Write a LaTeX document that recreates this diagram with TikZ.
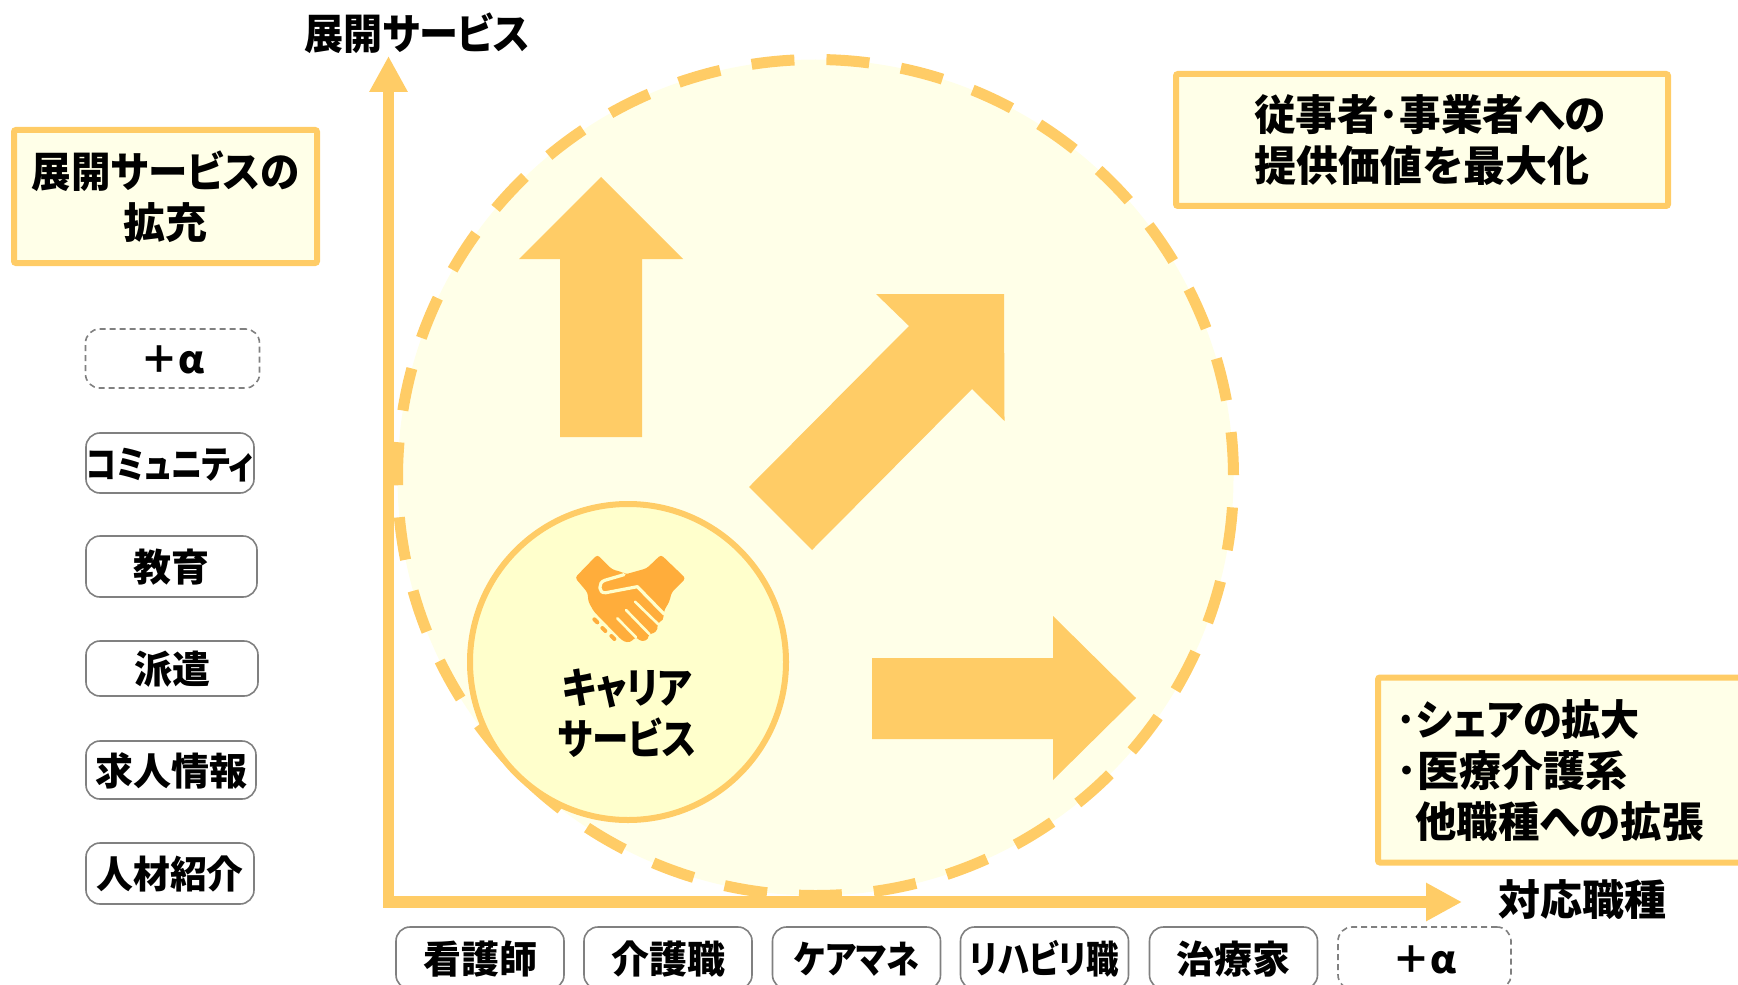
\documentclass[tikz,border=0pt]{standalone}
\usepackage{fontspec}
\usepackage{graphicx}
\setmainfont{Noto Sans CJK JP Black}[RawFeature=+palt]
\usetikzlibrary{arrows.meta,shapes.geometric}
\definecolor{amber}{HTML}{FFCC66}
\definecolor{palefill}{HTML}{FFFFE8}
\definecolor{corefill}{HTML}{FFFFCC}
\definecolor{iconcol}{HTML}{FFAD3B}
\definecolor{chipline}{HTML}{808080}
\newcommand{\sq}[2]{\scalebox{#1}[1]{#2}}
\tikzset{
  x=0.5pt,y=-0.5pt,
  lbl/.style={font=\fontsize{19}{25.5}\selectfont,align=center,text=black,inner sep=0pt},
  lblbig/.style={lbl,font=\fontsize{21}{25.5}\selectfont},
  callout/.style={lblbig,draw=amber,line width=3pt,fill=palefill,rounded corners=1pt,outer sep=0pt},
  chip/.style={lbl,draw=chipline,line width=0.8pt,rounded corners=7pt,fill=white,text height=17.4pt,text depth=2pt},
  chipd/.style={chip,dash pattern=on 3pt off 2pt},
  axisline/.style={draw=amber,line width=5.75pt,-{Triangle[length=18pt,width=18pt]}},
  bigarrow/.style={fill=amber,draw=none},
}
\begin{document}
\begin{tikzpicture}
\path[clip,use as bounding box] (0,0) rectangle (1738,984);
\coordinate (origin) at (388.5,902);
\coordinate (ytip) at (388.5,56);
\coordinate (xtip) at (1462,902);
\draw[axisline] (388.5,907.5) -- (ytip);
\node[circle,draw=amber,line width=5.5pt,fill=palefill,dash pattern=on 21.5pt off 16.02pt,dash phase=36.3pt,minimum size=418pt,inner sep=0pt,outer sep=0pt] (scope) at (815.5,477.5) {};
\draw[axisline] (383,902) -- (xtip);
% block arrows
\fill[bigarrow] (601,177) -- (683,259) -- (642,259) -- (642,437) -- (560,437) -- (560,259) -- (519,259) -- cycle;
\fill[bigarrow] (1004,294) -- (876,294) -- (909,326) -- (749,487) -- (812,550) -- (972,389) -- (1004.5,421) -- cycle;
\fill[bigarrow] (1136,698) -- (1053,616) -- (1053,658) -- (872,658) -- (872,739) -- (1053,739) -- (1053,780) -- cycle;
% core circle
\node[circle,draw=amber,line width=3pt,fill=corefill,minimum size=158pt,inner sep=0pt,outer sep=0pt] (core) at (628,662) {};
% handshake icon
\begin{scope}[shift={(440,480)},x=0.16667pt,y=-0.16667pt]
\fill[iconcol,rounded corners=1.5pt] (405,293) -- (472,224) -- (516,268) -- (548,277) -- (556,283) -- (620,265) -- (663,224) -- (737,295) -- (695,337) -- (688,365) -- (672,392) -- (671,412) -- (665,425) -- (651,428) -- (654,447) -- (640,462) -- (626,460) -- (625,478) -- (605,485) -- (585,470) -- (578,483) -- (560,488) -- (545,480) -- (462,395) -- (445,365) -- (443,338) -- cycle;
\draw[corefill,line width=1.6pt,line cap=round,line join=round] (552,284) -- (494,301) .. controls (474,307) and (474,342) .. (498,338) -- (592,320) -- (672,402);
\draw[corefill,line width=1.3pt,line cap=round] (585,365) -- (654,432);
\draw[corefill,line width=1.3pt,line cap=round] (558,390) -- (628,462);
\draw[corefill,line width=1.3pt,line cap=round] (532,415) -- (588,472);
\draw[iconcol,line width=2pt,line cap=round] (463,418) -- (472,427);
\draw[iconcol,line width=2pt,line cap=round] (487,444) -- (496,453);
\draw[iconcol,line width=2pt,line cap=round] (514,468) -- (523,477);
\end{scope}
\node[lblbig] (coretext) at (627,713) {\sq{.87}{キャリア}\\\sq{.87}{サービス}};
% labels
\node[lblbig] (ylabel) at (417,33) {\sq{.93}{展開サービス}};
\node[lblbig] (xlabel) at (1582,900) {対応職種};
\node[callout,minimum width=151.5pt,minimum height=66.5pt] (c1) at (165.5,196.5) {\sq{.94}{展開サービスの}\\拡充};
\node[callout,minimum width=246pt,minimum height=66pt] (c2) at (1422,140) {\hspace*{8pt}\sq{.99}{従事者･事業者への}\\提供価値を最大化};
\node[callout,minimum width=186pt,minimum height=92.5pt] (c3) at (1564,770) {};
\node[lblbig,align=left,anchor=west] (c3text) at (1396,771) {\sq{.93}{･シェアの拡大}\\･医療介護系\\\hspace{9.5pt}\sq{.985}{他職種への拡張}};
% left chips
\node[chipd,minimum width=87pt,minimum height=29.5pt] (s6) at (172.5,358.5) {＋α};
\node[chip,minimum width=84pt,minimum height=30pt] (s5) at (170,463) {\sq{.82}{コミュニティ}};
\node[chip,minimum width=85.5pt,minimum height=30.5pt] (s4) at (171.5,566.5) {教育};
\node[chip,minimum width=86pt,minimum height=27.5pt] (s3) at (172,668.5) {派遣};
\node[chip,minimum width=85pt,minimum height=29pt] (s2) at (171,770) {求人情報};
\node[chip,minimum width=84pt,minimum height=30.5pt] (s1) at (170,873.5) {\sq{.97}{人材紹介}};
% bottom chips
\node[chip,minimum width=84pt,minimum height=31pt] (b1) at (480,958) {看護師};
\node[chip,minimum width=84pt,minimum height=31pt] (b2) at (668,958) {介護職};
\node[chip,minimum width=84pt,minimum height=31pt] (b3) at (856.5,958) {\sq{.867}{ケアマネ}};
\node[chip,minimum width=84pt,minimum height=31pt] (b4) at (1044.5,958) {\sq{.855}{リハビリ職}};
\node[chip,minimum width=84pt,minimum height=31pt] (b5) at (1233.5,958) {治療家};
\node[chipd,minimum width=86.5pt,minimum height=31pt] (b6) at (1424.5,958) {＋α};
\end{tikzpicture}
\end{document}
